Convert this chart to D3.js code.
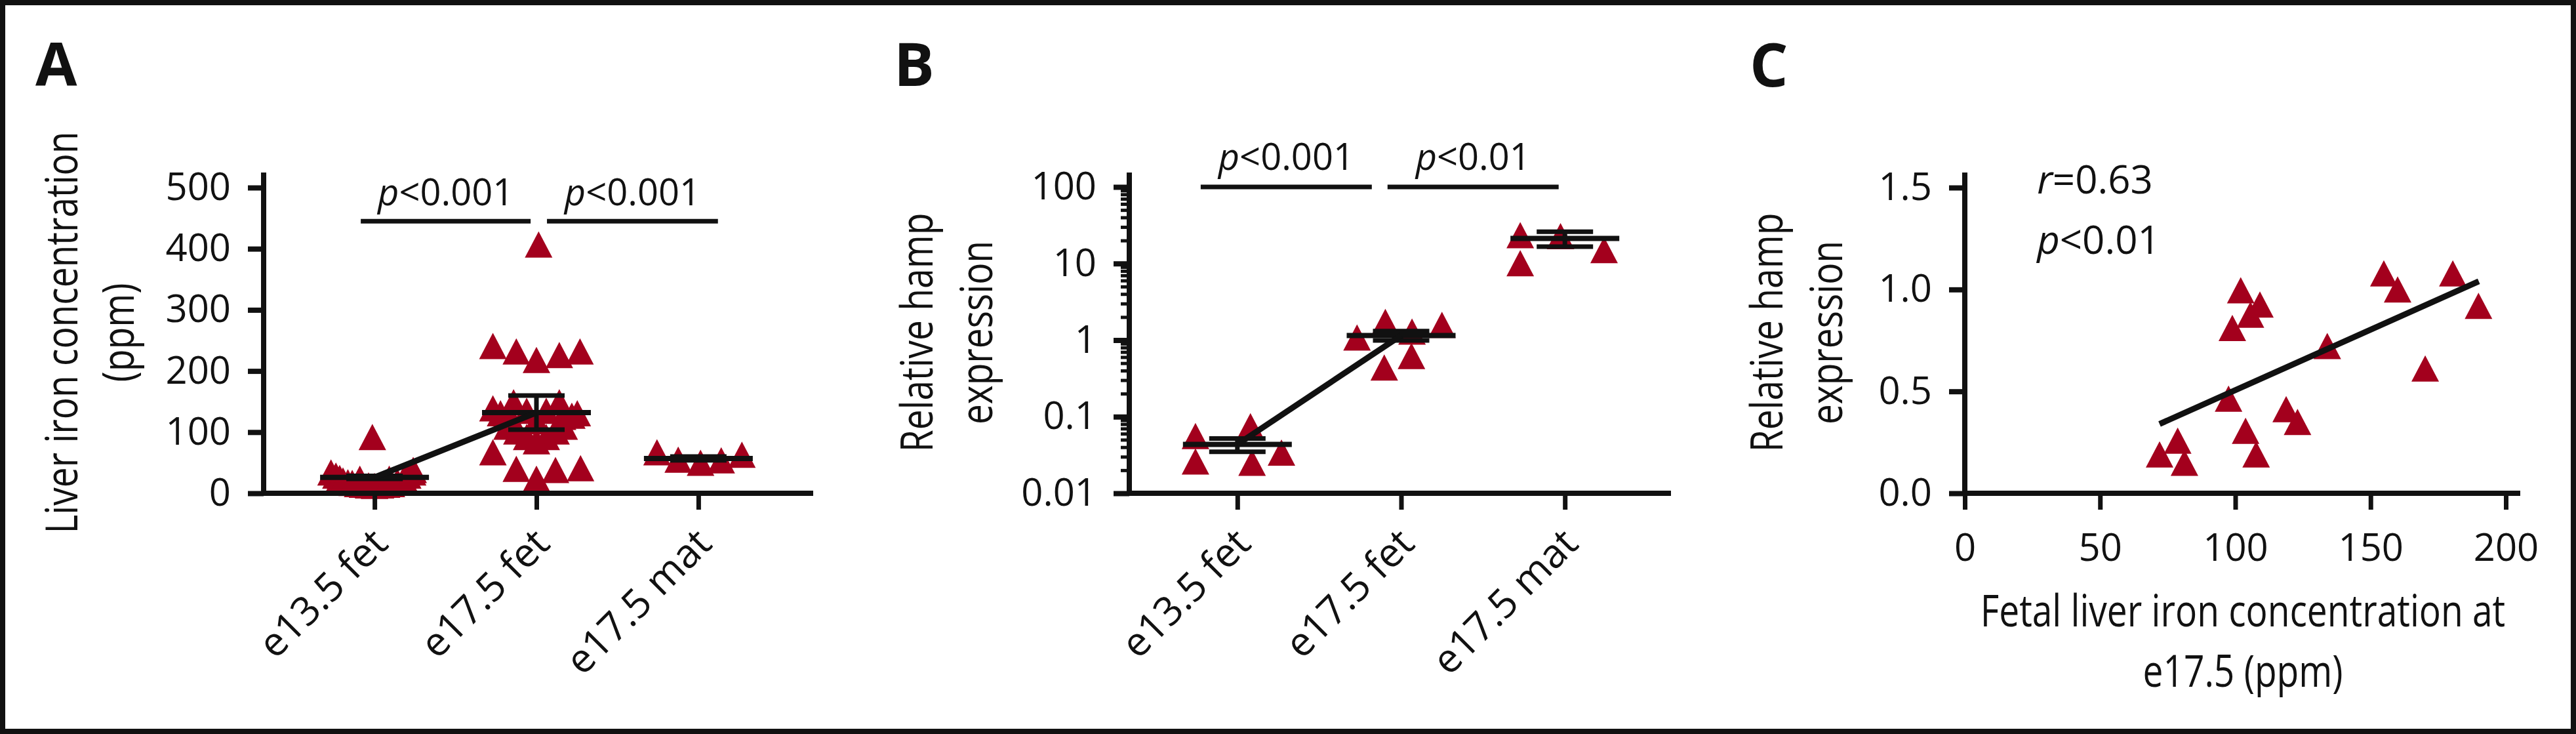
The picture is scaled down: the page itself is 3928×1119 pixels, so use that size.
<!DOCTYPE html>
<html><head><meta charset="utf-8">
<script src="https://cdn.jsdelivr.net/npm/d3@7"></script>
<style>
html,body{margin:0;padding:0;background:#fff;}
svg{display:block;}
text{font-family:"Open Sans",sans-serif;fill:#111;}
</style></head><body>
<svg id="chart" width="3928" height="1119"></svg>
<script>
// ================= DATA =================
const categories = ["e13.5 fet", "e17.5 fet", "e17.5 mat"];

// Panel A: liver iron concentration (ppm); spread = horizontal scatter within the column (-1..1)
const ironE135Fet = [34,29,25,21,18,17,15,14,13,12,13,14,15,19,24,29,34,38,92,24,24];
const ironE135FetSpread = [-0.80,-0.71,-0.64,-0.58,-0.49,-0.41,-0.31,-0.22,-0.11,0,0.11,0.22,0.31,0.42,0.54,0.61,0.70,0.71,-0.04,-0.27,0.27];
const ironE175Fet = [407,241,232,218,226,232,67,40,24,38,41,139,131,149,149,127,131,125,135,135,125,118,109,109,101,101,92,92,85];
const ironE175FetSpread = [0.04,-0.80,-0.37,0,0.42,0.80,-0.80,-0.37,0,0.35,0.81,-0.80,-0.66,-0.42,0.42,0.65,0.75,-0.48,-0.18,0.18,0.48,0,-0.54,0.51,-0.36,0.36,-0.18,0.18,0];
const ironE175Mat = [67,55,50,54,63];
const ironE175MatSpread = [-0.76,-0.37,0.04,0.42,0.80];
const ironMean = [26,132,57];
const ironSEM = [2.5,28,3];
const ironTicks = [0,100,200,300,400,500];
const ironP = ["p<0.001","p<0.001"];

// Panel B: relative hamp expression (log scale)
const hampE135Fet = [0.056,0.026,0.075,0.025,0.034];
const hampE135FetSpread = [-0.77,-0.77,0.24,0.27,0.81];
const hampE175Fet = [1.08,1.73,1.29,1.58,0.44,0.62];
const hampE175FetSpread = [-0.81,-0.29,0.20,0.75,-0.31,0.19];
const hampE175Mat = [23.5,10.1,22.8,15.0];
const hampE175MatSpread = [-0.82,-0.82,-0.08,0.72];
const hampMean = [0.0434,1.15,21.3];
const hampSEM = [0.0085,0.16,4.7];
const hampTicks = [0.01,0.1,1,10,100];
const hampP = ["p<0.001","p<0.01"];

// Panel C: correlation
const corrIron = [72.0,78.7,81.2,97.5,98.9,102.0,105.6,109.1,103.8,107.7,118.8,123.0,134.0,154.9,160.0,170.2,180.4,189.9];
const corrHamp = [0.191,0.258,0.150,0.464,0.811,0.996,0.876,0.926,0.307,0.191,0.413,0.350,0.723,1.079,1.000,0.612,1.079,0.920];
const fitIron = [72,190];
const fitHamp = [0.34,1.04];
const corrXTicks = [0,50,100,150,200];
const corrYTicks = [0,0.5,1.0,1.5];
const corrStats = ["r=0.63","p<0.01"];

// ================= DRAWING =================
const svg = d3.select("#chart");
const RED = "#a3001d", INK = "#111";
const TRI = "M0,-20L21,20L-21,20Z";
const FONT = "'Open Sans', sans-serif";
const NARROW = 0.81; // condensed look of the axis titles

svg.append("rect").attr("x",4).attr("y",4).attr("width",3920).attr("height",1111)
  .attr("fill","none").attr("stroke",INK).attr("stroke-width",8);

function italicFirst(t, s){
  t.append("tspan").attr("font-style","italic").text(s[0]);
  t.append("tspan").text(s.slice(1));
}
function panelLetter(s, x, y){
  svg.append("text").attr("x",x).attr("y",y).attr("font-size",92).attr("font-weight",700).text(s);
}
function yTitle(lines, xs, cy){
  lines.forEach((t,i)=>{
    svg.append("text").attr("transform",`translate(${xs[i]},${cy}) rotate(-90) scale(${NARROW},1)`)
      .attr("text-anchor","middle").attr("font-size",68).text(t);
  });
}
function styleAxis(a, w){
  a.attr("font-family",FONT).attr("font-size",58);
  a.select(".domain").remove();
  a.selectAll(".tick line").attr("stroke",INK).attr("stroke-width",w);
  a.selectAll(".tick text").attr("fill",INK);
}

function catPanel(o){
  const g = svg.append("g");
  const x = d3.scalePoint().domain(categories).range([o.left,o.catRight]).padding(o.pad);
  const y = o.y;
  const [yb, yt] = y.range();
  const sp = d3.scaleLinear().domain([-1,1]).range([-83,83]);
  const pts = [];
  o.groups.forEach((gr,i)=>gr.values.forEach((v,j)=>pts.push({c:categories[i], v, s:gr.spread[j]})));
  g.selectAll("path.pt").data(pts).join("path").attr("class","pt").attr("d",TRI).attr("fill",RED)
    .attr("transform",d=>`translate(${x(d.c)+sp(d.s)},${y(d.v)})`);
  categories.forEach((c,i)=>{
    const cx = x(c), m = o.mean[i], s = o.sem[i];
    g.append("line").attr("x1",cx).attr("x2",cx).attr("y1",y(m-s)).attr("y2",y(m+s)).attr("stroke",INK).attr("stroke-width",7);
    [m-s,m+s].forEach(v=>g.append("line").attr("x1",cx-43).attr("x2",cx+43).attr("y1",y(v)).attr("y2",y(v)).attr("stroke",INK).attr("stroke-width",7));
    g.append("line").attr("x1",cx-83).attr("x2",cx+83).attr("y1",y(m)).attr("y2",y(m)).attr("stroke",INK).attr("stroke-width",8);
  });
  g.append("path").attr("d",d3.line()([[x(categories[0]),y(o.mean[0])],[x(categories[1]),y(o.mean[1])]]))
    .attr("stroke",INK).attr("stroke-width",9).attr("fill","none");
  // y axis
  const ya = g.append("g").attr("transform",`translate(${o.left},0)`)
    .call(d3.axisLeft(y).tickValues(o.yTicks).tickFormat(o.fmt).tickSize(24).tickPadding(26));
  styleAxis(ya, 8);
  if (o.minor){
    const mA = g.append("g").attr("transform",`translate(${o.left},0)`)
      .call(d3.axisLeft(y).tickValues(o.minor).tickFormat("").tickSize(13));
    styleAxis(mA, 5);
  }
  // x axis
  const xa = g.append("g").attr("transform",`translate(0,${yb})`)
    .call(d3.axisBottom(x).tickSize(25));
  styleAxis(xa, 7);
  xa.selectAll(".tick text").attr("font-size",61).attr("y",0).attr("dy",null).attr("x",0)
    .attr("text-anchor","end").attr("transform","translate(23,80) rotate(-45)");
  g.append("line").attr("x1",o.left).attr("x2",o.left).attr("y1",yt).attr("y2",yb+4).attr("stroke",INK).attr("stroke-width",8);
  g.append("line").attr("x1",o.left-4).attr("x2",o.xRight).attr("y1",yb).attr("y2",yb).attr("stroke",INK).attr("stroke-width",8);
  // brackets
  const xi = d3.scaleLinear().domain([0,2]).range([x(categories[0]),x(categories[2])]);
  o.brackets.forEach((b,k)=>{
    const yy = y(o.bracketY);
    g.append("line").attr("x1",xi(b[0])).attr("x2",xi(b[1])).attr("y1",yy).attr("y2",yy).attr("stroke",INK).attr("stroke-width",7);
    const t = g.append("text").attr("x",(xi(b[0])+xi(b[1]))/2).attr("y",yy-o.textGap).attr("text-anchor","middle").attr("font-size",56);
    italicFirst(t, o.pLabels[k]);
  });
}

// ---- Panel A ----
const yA = d3.scaleLinear().domain([0,500]).range([752,286]);
yA.domain([0, yA.invert(263)]).range([752,263]);
catPanel({
  left:402, catRight:1234, pad:0.685, xRight:1240, y:yA,
  yTicks:ironTicks, fmt:d3.format("d"),
  groups:[{values:ironE135Fet,spread:ironE135FetSpread},{values:ironE175Fet,spread:ironE175FetSpread},{values:ironE175Mat,spread:ironE175MatSpread}],
  mean:ironMean, sem:ironSEM,
  brackets:[[-0.085,0.964],[1.065,2.121]], bracketY:445, textGap:24, pLabels:ironP
});
panelLetter("A",54,131);
yTitle(["Liver iron concentration","(ppm)"],[118,204],507);

// ---- Panel B ----
const yB = d3.scaleLog().domain([0.01,100]).range([752,285]);
yB.domain([0.01, yB.invert(263)]).range([752,263]);
const hampMinor = [];
[0.01,0.1,1,10].forEach(d=>{ for(let k=2;k<=9;k++) hampMinor.push(+(d*k).toPrecision(3)); });
catPanel({
  left:1722, catRight:2551, pad:0.66, xRight:2548, y:yB,
  yTicks:hampTicks, fmt:d3.format("~g"), minor:hampMinor,
  groups:[{values:hampE135Fet,spread:hampE135FetSpread},{values:hampE175Fet,spread:hampE175FetSpread},{values:hampE175Mat,spread:hampE175MatSpread}],
  mean:hampMean, sem:hampSEM,
  brackets:[[-0.224,0.821],[0.917,1.962]], bracketY:100, textGap:26, pLabels:hampP
});
panelLetter("B",1363,131);
yTitle(["Relative hamp","expression"],[1422,1513],507);

// ---- Panel C ----
(function(){
  const g = svg.append("g");
  const x = d3.scaleLinear().domain([0,200]).range([2996,3821]);
  x.domain([0, x.invert(3843)]).range([2996,3843]);
  const y = d3.scaleLinear().domain([0,1.5]).range([752,286]);
  y.domain([0, y.invert(263)]).range([752,263]);
  const pts = corrIron.map((v,i)=>({x:v, y:corrHamp[i]}));
  g.selectAll("path.pt").data(pts).join("path").attr("class","pt").attr("d",TRI).attr("fill",RED)
    .attr("transform",d=>`translate(${x(d.x)},${y(d.y)})`);
  g.append("path").attr("d",d3.line()(fitIron.map((v,i)=>[x(v),y(fitHamp[i])])))
    .attr("stroke",INK).attr("stroke-width",9).attr("fill","none");
  const ya = g.append("g").attr("transform","translate(2996,0)")
    .call(d3.axisLeft(y).tickValues(corrYTicks).tickFormat(d3.format(".1f")).tickSize(24).tickPadding(26));
  styleAxis(ya, 8);
  const xa = g.append("g").attr("transform","translate(0,752)")
    .call(d3.axisBottom(x).tickValues(corrXTicks).tickFormat(d3.format("d")).tickSize(25).tickPadding(37));
  styleAxis(xa, 7);
  g.append("line").attr("x1",2996).attr("x2",2996).attr("y1",263).attr("y2",756).attr("stroke",INK).attr("stroke-width",8);
  g.append("line").attr("x1",2992).attr("x2",3843).attr("y1",752).attr("y2",752).attr("stroke",INK).attr("stroke-width",8);
  [1.471,1.175].forEach((v,i)=>{
    const t = g.append("text").attr("x",x(26.7)).attr("y",y(v)).attr("font-size",60);
    italicFirst(t, corrStats[i]);
  });
  ["Fetal liver iron concentration at","e17.5 (ppm)"].forEach((s,i)=>{
    svg.append("text").attr("transform",`translate(3420,${[955,1047][i]}) scale(${NARROW},1)`)
      .attr("text-anchor","middle").attr("font-size",68).text(s);
  });
})();
panelLetter("C",2668,132);
yTitle(["Relative hamp","expression"],[2718,2809],507);
</script>
</body></html>
